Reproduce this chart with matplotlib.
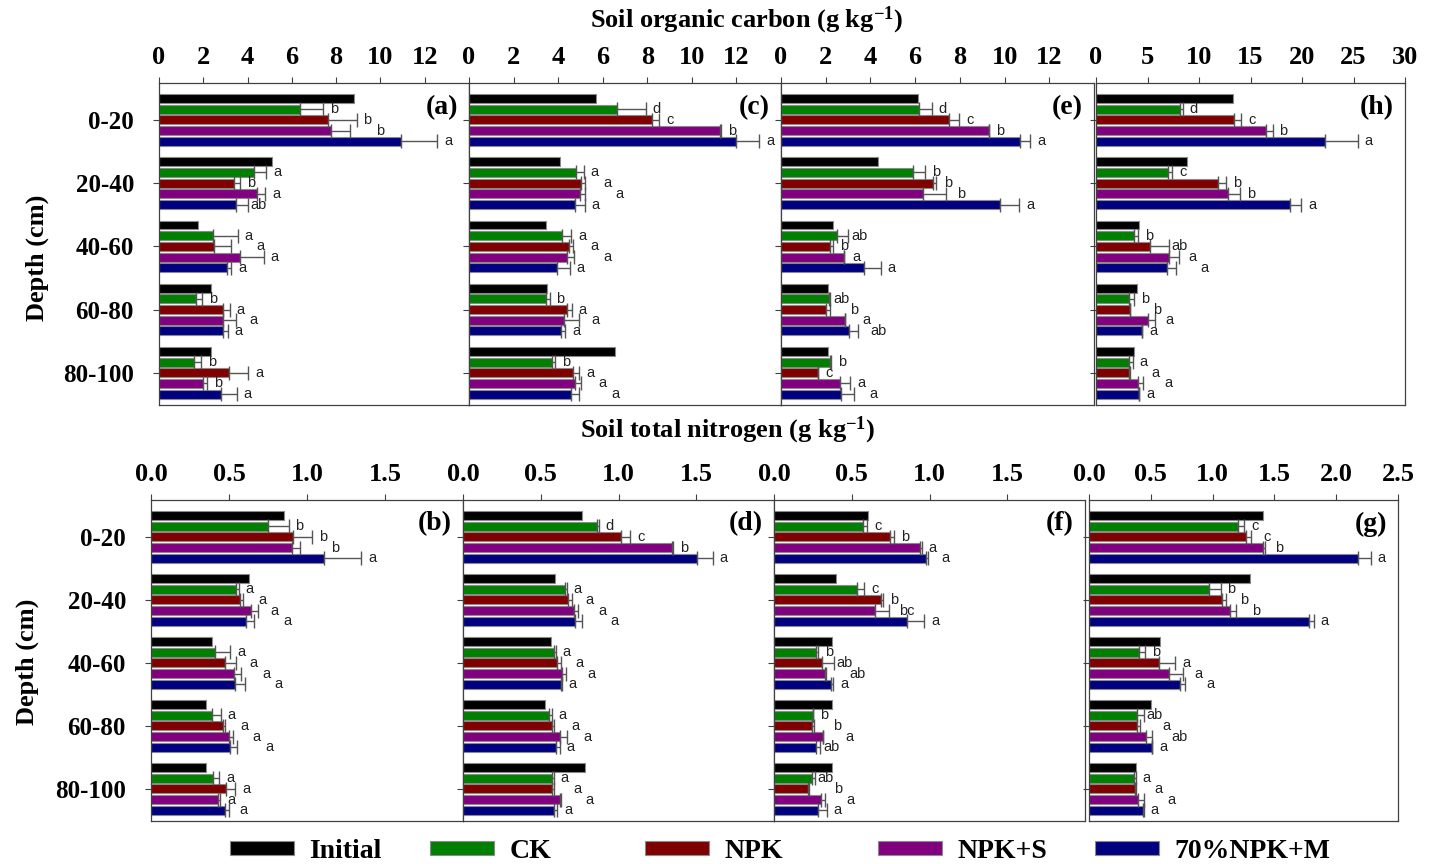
import matplotlib
matplotlib.use("Agg")
import matplotlib.pyplot as plt
import numpy as np
from matplotlib.patches import Patch

plt.rcParams["font.family"] = ["Liberation Serif", "DejaVu Serif"]
plt.rcParams["font.weight"] = "bold"
plt.rcParams["mathtext.default"] = "regular"

depths = ["0-20", "20-40", "40-60", "60-80", "80-100"]
treatments = ["Initial", "CK", "NPK", "NPK+S", "70%NPK+M"]
colors = ["#000000", "#008000", "#800000", "#800080", "#000080"]

# ---- Soil organic carbon (g kg-1); rows = treatments, columns = depths ----
soc_a_mean = [[8.80, 5.10, 1.78, 2.37, 2.37],
              [6.38, 4.30, 2.42, 1.68, 1.57],
              [7.64, 3.37, 2.49, 2.87, 3.15],
              [7.79, 4.42, 3.67, 2.91, 1.98],
              [10.91, 3.46, 3.09, 2.91, 2.81]]
soc_a_se = [[1.02, 0.55, 1.13, 0.28, 0.32],
            [1.28, 0.30, 0.76, 0.33, 0.88],
            [0.83, 0.38, 1.05, 0.58, 0.21],
            [1.66, 0.54, 0.17, 0.19, 0.71]]
soc_a_sig = [["b", "b", "b", "a"], ["a", "b", "a", "ab"], ["a", "a", "a", "a"],
             ["b", "a", "a", "a"], ["b", "a", "b", "a"]]

soc_c_mean = [[5.70, 4.09, 3.47, 3.48, 6.53],
              [6.65, 4.81, 4.16, 3.47, 3.71],
              [8.23, 5.04, 4.48, 4.40, 4.66],
              [11.28, 4.98, 4.40, 4.28, 4.76],
              [12.00, 4.76, 3.96, 4.15, 4.58]]
soc_c_se = [[1.28, 0.33, 0.42, 0.15, 0.15],
            [0.30, 0.18, 0.18, 0.21, 0.28],
            [0.04, 0.21, 0.30, 0.67, 0.28],
            [1.03, 0.43, 0.55, 0.16, 0.36]]
soc_c_sig = [["d", "c", "b", "a"], ["a", "a", "a", "a"], ["a", "a", "a", "a"],
             ["b", "a", "a", "a"], ["b", "a", "a", "a"]]

soc_e_mean = [[6.14, 4.36, 2.33, 2.09, 2.09],
              [6.17, 5.92, 2.51, 2.15, 2.20],
              [7.52, 6.78, 2.20, 2.00, 1.67],
              [9.29, 6.36, 2.81, 2.86, 2.65],
              [10.71, 9.80, 3.73, 3.02, 2.68]]
soc_e_se = [[0.57, 0.52, 0.50, 0.05, 0.03],
            [0.45, 0.17, 0.12, 0.17, 0.00],
            [0.03, 1.01, 0.02, 0.01, 0.45],
            [0.43, 0.85, 0.74, 0.42, 0.60]]
soc_e_sig = [["d", "c", "b", "a"], ["b", "b", "b", "a"], ["ab", "b", "a", "a"],
             ["ab", "b", "a", "ab"], ["b", "c", "a", "a"]]

soc_h_mean = [[13.26, 8.83, 4.14, 3.94, 3.65],
              [8.15, 6.95, 3.69, 3.23, 3.23],
              [13.35, 11.87, 5.24, 3.30, 3.20],
              [16.46, 12.84, 7.08, 5.01, 4.07],
              [22.24, 18.82, 6.85, 4.46, 4.14]]
soc_h_se = [[0.25, 0.42, 0.41, 0.46, 0.33],
            [0.71, 0.74, 1.84, 0.00, 0.10],
            [0.68, 1.16, 1.00, 0.71, 0.52],
            [3.20, 1.13, 0.91, 0.03, 0.06]]
soc_h_sig = [["d", "c", "b", "a"], ["c", "b", "b", "a"], ["b", "ab", "a", "a"],
             ["b", "b", "a", "a"], ["a", "a", "a", "a"]]

# ---- Soil total nitrogen (g kg-1) ----
tn_b_mean = [[0.850, 0.625, 0.389, 0.353, 0.353],
             [0.753, 0.546, 0.411, 0.392, 0.396],
             [0.912, 0.571, 0.475, 0.460, 0.481],
             [0.901, 0.640, 0.529, 0.499, 0.428],
             [1.111, 0.606, 0.541, 0.507, 0.477]]
tn_b_se = [[0.129, 0.017, 0.098, 0.055, 0.043],
           [0.119, 0.017, 0.071, 0.017, 0.060],
           [0.051, 0.049, 0.049, 0.027, 0.017],
           [0.237, 0.057, 0.060, 0.043, 0.022]]
tn_b_sig = [["b", "b", "b", "a"], ["a", "a", "a", "a"], ["a", "a", "a", "a"],
            ["a", "a", "a", "a"], ["a", "a", "a", "a"]]

tn_d_mean = [[0.767, 0.591, 0.564, 0.525, 0.786],
             [0.861, 0.654, 0.587, 0.555, 0.572],
             [1.013, 0.677, 0.604, 0.574, 0.570],
             [1.346, 0.716, 0.634, 0.621, 0.621],
             [1.504, 0.720, 0.632, 0.596, 0.587]]
tn_d_se = [[0.013, 0.012, 0.009, 0.017, 0.011],
           [0.061, 0.022, 0.026, 0.013, 0.013],
           [0.006, 0.021, 0.026, 0.045, 0.009],
           [0.101, 0.047, 0.002, 0.028, 0.019]]
tn_d_sig = [["d", "c", "b", "a"], ["a", "a", "a", "a"], ["a", "a", "a", "a"],
            ["a", "a", "a", "a"], ["a", "a", "a", "a"]]

tn_f_mean = [[0.607, 0.401, 0.373, 0.373, 0.373],
             [0.575, 0.536, 0.273, 0.251, 0.247],
             [0.749, 0.687, 0.309, 0.245, 0.217],
             [0.938, 0.652, 0.330, 0.313, 0.300],
             [0.976, 0.858, 0.369, 0.273, 0.283]]
tn_f_se = [[0.022, 0.043, 0.010, 0.002, 0.017],
           [0.021, 0.017, 0.075, 0.013, 0.006],
           [0.013, 0.086, 0.003, 0.002, 0.030],
           [0.015, 0.108, 0.013, 0.025, 0.056]]
tn_f_sig = [["c", "b", "a", "a"], ["c", "b", "bc", "a"], ["b", "ab", "ab", "a"],
            ["b", "b", "a", "ab"], ["ab", "b", "a", "a"]]

tn_g_mean = [[1.408, 1.305, 0.572, 0.502, 0.383],
             [1.203, 0.971, 0.405, 0.391, 0.364],
             [1.268, 1.073, 0.566, 0.391, 0.372],
             [1.408, 1.143, 0.647, 0.458, 0.394],
             [2.179, 1.780, 0.734, 0.507, 0.437]]
tn_g_se = [[0.051, 0.094, 0.051, 0.051, 0.014],
           [0.045, 0.033, 0.132, 0.019, 0.011],
           [0.013, 0.049, 0.114, 0.054, 0.054],
           [0.100, 0.040, 0.040, 0.005, 0.005]]
tn_g_sig = [["c", "c", "b", "a"], ["b", "b", "b", "a"], ["b", "a", "a", "a"],
            ["ab", "a", "ab", "a"], ["a", "a", "a", "a"]]

soc_ticks = [0, 2, 4, 6, 8, 10, 12]
soc_h_ticks = [0, 5, 10, 15, 20, 25, 30]
tn_ticks = [0.0, 0.5, 1.0, 1.5]
tn_g_ticks = [0.0, 0.5, 1.0, 1.5, 2.0, 2.5]

W, H = 1431, 864
fig = plt.figure(figsize=(W / 100, H / 100), dpi=100)


def px_axes(x0, x1, y0, y1):
    return fig.add_axes([x0 / W, 1 - y1 / H, (x1 - x0) / W, (y1 - y0) / H])


def draw_panel(ax, mean, se, sig, xmax, ticks, tick_fmt, tag, show_depths):
    y = np.arange(len(depths))
    pitch, height = 0.169, 0.142
    pad = 0.035 * xmax          # gap between error-bar end and letter
    step = 0.04 * xmax          # min horizontal spacing between stacked letters
    letter_x = np.full((len(treatments), len(depths)), np.nan)
    for i, name in enumerate(treatments):
        ypos = y + (i - 2) * pitch
        vals = np.array(mean[i])
        kw = dict(height=height, color=colors[i], edgecolor="#8a8a8a", linewidth=0.8)
        if i > 0:
            err = np.array(se[i - 1])
            kw["xerr"] = [np.zeros_like(err), err]
            kw["error_kw"] = dict(ecolor="#555555", elinewidth=1.0, capsize=5, capthick=1.0)
        ax.barh(ypos, vals, **kw)
        if i > 0:
            for j in range(len(depths)):
                lx = vals[j] + err[j] + pad
                prev = letter_x[i - 1, j]
                if not np.isnan(prev) and abs(lx - prev) < step:
                    lx = prev + step
                letter_x[i, j] = lx
                ax.text(lx, ypos[j], sig[j][i - 1],
                        fontsize=10.5, fontweight="normal", family="Liberation Sans",
                        ha="center", va="center", color="#222222")
    ax.set_xlim(0, xmax)
    ax.set_ylim(4.51, -0.585)
    ax.xaxis.tick_top()
    ax.set_xticks(ticks)
    ax.set_xticklabels([tick_fmt.format(t) for t in ticks])
    ax.set_yticks(y)
    ax.set_yticklabels(depths if show_depths else [])
    ax.tick_params(axis="x", direction="out", length=4, width=0.8, pad=6,
                   labelsize=19, color="#404040")
    ax.tick_params(axis="y", direction="out", length=4, width=0.8, pad=14,
                   labelsize=18, color="#404040")
    for s in ax.spines.values():
        s.set_color("#404040")
        s.set_linewidth(0.9)
    ax.text(0.965, 0.925, tag, transform=ax.transAxes, ha="right", va="center",
            fontsize=20, fontweight="bold")


top = [(159, 469, soc_a_mean, soc_a_se, soc_a_sig, 14, soc_ticks, "(a)", True),
       (469, 781, soc_c_mean, soc_c_se, soc_c_sig, 14, soc_ticks, "(c)", False),
       (781, 1094, soc_e_mean, soc_e_se, soc_e_sig, 14, soc_ticks, "(e)", False),
       (1096, 1405, soc_h_mean, soc_h_se, soc_h_sig, 30, soc_h_ticks, "(h)", False)]
bottom = [(151, 463, tn_b_mean, tn_b_se, tn_b_sig, 2.0, tn_ticks, "(b)", True),
          (463, 774, tn_d_mean, tn_d_se, tn_d_sig, 2.0, tn_ticks, "(d)", False),
          (774, 1085, tn_f_mean, tn_f_se, tn_f_sig, 2.0, tn_ticks, "(f)", False),
          (1089, 1398, tn_g_mean, tn_g_se, tn_g_sig, 2.5, tn_g_ticks, "(g)", False)]

for x0, x1, m, s, g, xmax, ticks, tag, show in top:
    ax = px_axes(x0, x1, 83, 405)
    draw_panel(ax, m, s, g, xmax, ticks, "{:g}", tag, show)

for x0, x1, m, s, g, xmax, ticks, tag, show in bottom:
    ax = px_axes(x0, x1, 500, 821)
    draw_panel(ax, m, s, g, xmax, ticks, "{:.1f}", tag, show)

fig.text(746 / W, 1 - 20 / H, "Soil organic carbon (g kg$^{-1}$)", ha="center", va="center",
         fontsize=19, fontweight="bold")
fig.text(728 / W, 1 - 430 / H, "Soil total nitrogen (g kg$^{-1}$)", ha="center", va="center",
         fontsize=19, fontweight="bold")
fig.text(37 / W, 1 - 258 / H, "Depth (cm)", rotation=90, ha="center", va="center",
         fontsize=19, fontweight="bold")
fig.text(27 / W, 1 - 662 / H, "Depth (cm)", rotation=90, ha="center", va="center",
         fontsize=19, fontweight="bold")

legend_x = [230, 430, 645, 878, 1095]
for name, col, lx in zip(treatments, colors, legend_x):
    fig.legend(handles=[Patch(facecolor=col, edgecolor="#8a8a8a", linewidth=0.8, label=name)],
               loc="center left", bbox_to_anchor=(lx / W, 1 - 851 / H), frameon=False,
               borderpad=0, borderaxespad=0, handlelength=2.3, handleheight=0.4,
               handletextpad=0.55, prop=dict(family="Liberation Serif", weight="bold", size=20))

fig.savefig("out.png", dpi=100)
